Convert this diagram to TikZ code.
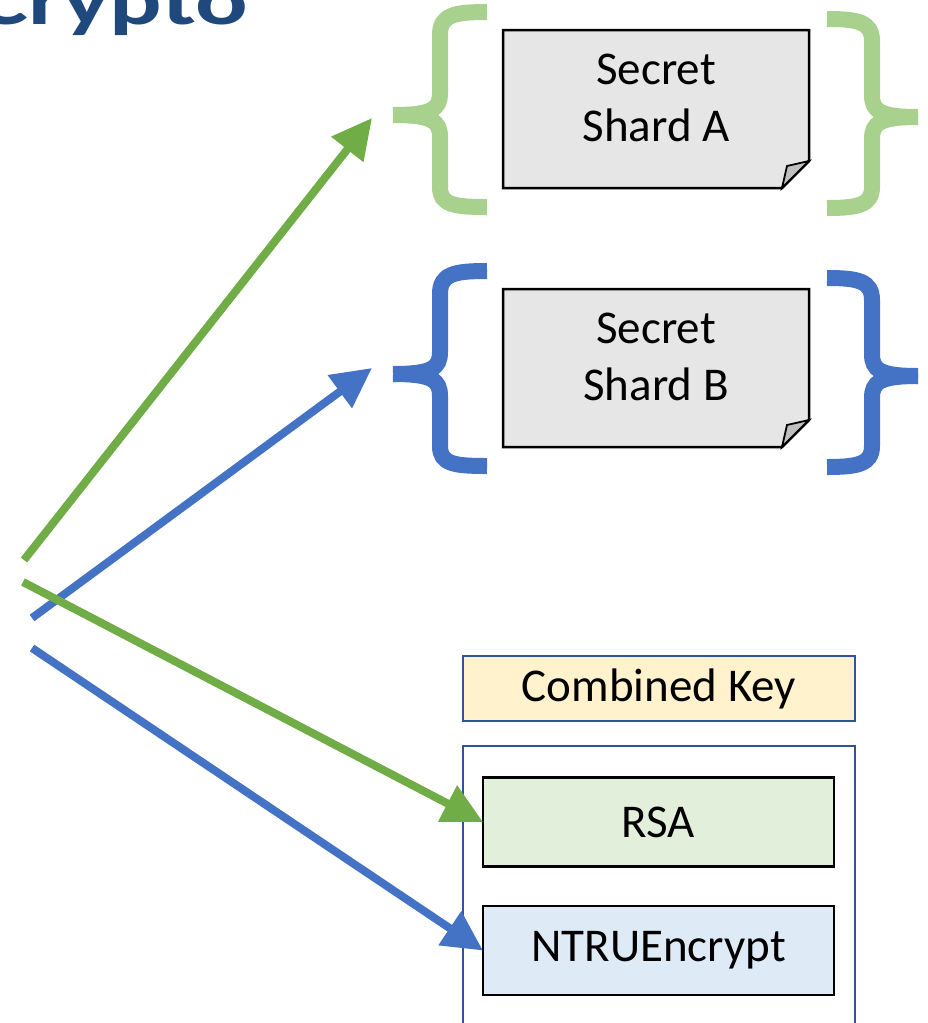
\documentclass[tikz,border=0pt]{standalone}
\usepackage{fontspec}
\setmainfont{Carlito}
\usetikzlibrary{arrows.meta}

\definecolor{titleblue}{HTML}{1F497D}
\definecolor{arrowgreen}{HTML}{70AD47}
\definecolor{arrowblue}{HTML}{4472C4}
\definecolor{bracegreen}{HTML}{A9D18E}
\definecolor{braceblue}{HTML}{4472C4}
\definecolor{shardgray}{HTML}{E6E6E6}
\definecolor{foldgray}{HTML}{BFBFBF}
\definecolor{keyyellow}{HTML}{FFF2CC}
\definecolor{keyborder}{HTML}{2F5597}
\definecolor{rsagreen}{HTML}{E2EFDA}
\definecolor{ntrublue}{HTML}{DEEBF7}

\tikzset{
  lbl/.style={font=\fontsize{47}{57}\selectfont, inner sep=0pt, outer sep=0pt},
  title/.style={font=\fontsize{98}{110}\selectfont\bfseries, text=titleblue, inner sep=0pt},
  shard/.style={rectangle, minimum width=306pt, minimum height=158pt, inner sep=0pt, outer sep=0pt},
  foldbox/.style={draw=black, line width=2.5pt, fill=shardgray, line join=miter},
  foldflap/.style={draw=black, line width=1.8pt, fill=foldgray, line join=miter},
  shardtext/.style={lbl, align=center},
  keylabel/.style={lbl, draw=keyborder, line width=2pt, fill=keyyellow,
    minimum width=392pt, minimum height=65pt},
  container/.style={draw=keyborder, line width=2pt, minimum width=392pt,
    minimum height=300pt, inner sep=0pt, outer sep=0pt},
  algo/.style={lbl, draw=black, line width=2.5pt, minimum width=351pt, minimum height=89pt},
  brace/.style={line width=16pt, line cap=butt},
  garrow/.style={draw=arrowgreen, line width=8pt, -{Triangle[length=40pt,width=39pt]}},
  barrow/.style={draw=arrowblue, line width=8pt, -{Triangle[length=40pt,width=39pt]}},
  leftbrace/.pic={
    \draw (47,-103) .. controls (14,-103) and (0,-100) .. (0,-80) -- (0,-22)
          .. controls (0,-6) and (-8,0) .. (-47,0);
    \draw (-47,0) .. controls (-8,0) and (0,6) .. (0,22) -- (0,72)
          .. controls (0,90) and (14,92) .. (47,92);
  },
  rightbrace/.pic={
    \draw (-45,-98) .. controls (-14,-98) and (0,-95) .. (0,-76) -- (0,-22)
          .. controls (0,-6) and (8,0) .. (46,0);
    \draw (46,0) .. controls (8,0) and (0,6) .. (0,22) -- (0,70)
          .. controls (0,88) and (-14,91) .. (-45,91);
  },
}

\begin{document}
\begin{tikzpicture}[x=1pt, y=-1pt]
\useasboundingbox (0,0) rectangle (928,1023);

% heading, running off the top of the page
\begin{scope}[shift={(248,24)}, yscale=0.72]
  \node[title, anchor=base east, transform shape] (title) at (0,0) {Crypto};
\end{scope}

% secret shards with folded corners
\foreach \nm/\dy/\letter in {shardA/0/A, shardB/259/B}{
  \node[shard] (\nm) at (656,109+\dy) {};
  \draw[foldbox] (\nm.north west) -- (\nm.north east)
     -- ([yshift=27pt]\nm.south east) -- ([xshift=-27pt]\nm.south east)
     -- (\nm.south west) -- cycle;
  \draw[foldflap] ([xshift=-27pt]\nm.south east)
     -- ([xshift=-22pt,yshift=22pt]\nm.south east)
     -- ([yshift=27pt]\nm.south east) -- cycle;
  \node[shardtext] (\nm text) at (656,97.5+\dy) {Secret\\Shard \letter};
}

% braces around the shards
\begin{scope}[draw=bracegreen, brace]
  \pic at (440,115) {leftbrace};
  \pic at (872,117) {rightbrace};
\end{scope}
\begin{scope}[draw=braceblue, brace]
  \pic at (440,374) {leftbrace};
  \pic at (872,376) {rightbrace};
\end{scope}

% combined key
\node[keylabel] (combined) at (659,688.5) {Combined Key};
\node[container, anchor=north] (keybox) at (659,746) {};
\node[algo, fill=rsagreen] (rsa) at (658.5,822) {RSA};
\node[algo, fill=ntrublue] (ntru) at (658.5,950.5) {NTRUEncrypt};

% arrows
\coordinate (bAstart) at (32,618);
\coordinate (bAend) at (372,368);
\coordinate (bBstart) at (32,648);
\coordinate (gAstart) at (24,560);
\coordinate (gAend) at (372,118);
\coordinate (gBstart) at (23,582);

\draw[barrow] (bAstart) -- (bAend);
\draw[barrow] (bBstart) -- (ntru.west);
\draw[garrow] (gAstart) -- (gAend);
\draw[garrow] (gBstart) -- (rsa.west);
\end{tikzpicture}
\end{document}
